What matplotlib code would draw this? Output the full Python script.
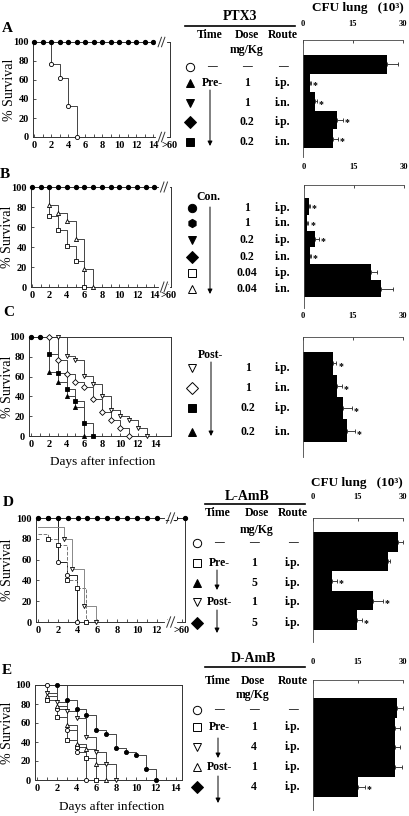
import matplotlib
matplotlib.use('Agg')
import matplotlib.pyplot as plt
import numpy as np

W, H = 409, 816
plt.rcParams['font.family'] = ['Liberation Serif', 'DejaVu Serif']
plt.rcParams['font.weight'] = 'bold'

# ---------------- survival data (day, % survival) ----------------
# A: PTX3 pre-treatment
a_prot_days = [0, 1, 2, 3, 4, 5, 6, 7, 8, 9, 10, 11, 12, 13, 14]
a_prot_vals = [100, 100, 100, 100, 100, 100, 100, 100, 100, 100, 100, 100, 100, 100, 100]
a_ctrl_days = [2, 3, 4, 5]
a_ctrl_vals = [77, 62, 33, 0]

# B: PTX3 concomitant
b_prot_days = [0, 1, 2, 3, 4, 5, 6, 7, 8, 9, 10, 11, 12, 13, 14]
b_prot_vals = [100, 100, 100, 100, 100, 100, 100, 100, 100, 100, 100, 100, 100, 100, 100]
b_tri_days = [2, 3, 4, 5, 6, 7]
b_tri_vals = [82, 74, 66, 48, 18, 0]
b_sq_days = [2, 3, 4, 5, 6]
b_sq_vals = [71, 57, 41, 26, 0]

# C: PTX3 post-treatment
c_start_days = [0, 1]
c_start_vals = [100, 100]
c_vdn_days = [3, 4, 5, 6, 7, 8, 9, 10, 11, 12, 13]
c_vdn_vals = [100, 81, 77, 61, 53, 40, 26, 20, 16, 8, 0]
c_dia_days = [2, 3, 4, 5, 6, 7, 8, 9, 10, 11]
c_dia_vals = [100, 77, 63, 55, 49, 37, 24, 16, 8, 0]
c_sq_days = [2, 3, 4, 5, 6, 7]
c_sq_vals = [83, 64, 47, 35, 13, 0]
c_tri_days = [2, 3, 4, 5, 6]
c_tri_vals = [65, 55, 40, 29, 0]

# D: L-AmB
d_prot_days = [0, 1, 2, 3, 4, 5, 6, 7, 8, 9, 10, 11, 12, 13, 13.85, 14.85]
d_prot_vals = [100, 100, 100, 100, 100, 100, 100, 100, 100, 100, 100, 100, 100, 100, 100, 100]
d_ctrl_start = 100
d_ctrl_days = [1, 2, 2.9, 3.9]
d_ctrl_vals = [100, 58, 45, 0]
d_pre_start = 85
d_pre_days = [1, 2, 2.9, 3.9, 4.9]
d_pre_vals = [80, 74, 40, 33, 0]
d_post_start = 91
d_post_days = [2.6, 3.4, 4.6, 5.9]
d_post_vals = [80, 51, 15, 0]

# E: D-AmB
e_ctrl_days = [1, 2, 3, 4, 5]
e_ctrl_vals = [100, 75, 53, 30, 0]
e_pre1_days = [1, 2, 3, 4, 5, 6]
e_pre1_vals = [84, 66, 42, 35, 23, 0]
e_pre4_days = [1, 2, 3, 4, 5, 6, 7, 8]
e_pre4_vals = [92, 82, 73, 65, 45, 29, 17, 0]
e_post1_days = [1, 2, 3, 4, 5, 6, 7]
e_post1_vals = [88, 78, 58, 38, 33, 17, 0]
e_post4_days = [2, 3, 4, 5, 6, 7, 8, 9, 10, 11, 12]
e_post4_vals = [100, 84, 75, 68, 53, 48, 34, 29, 26, 12, 0]

# ---------------- CFU lung (10^3) ----------------
a_cfu = [25.2, 2.1, 3.6, 10.2, 9.0]
a_err = [3.3, 0.3, 0.6, 1.8, 1.5]
a_sig = [False, True, True, True, True]
b_cfu = [1.4, 1.0, 3.3, 1.8, 20.0, 23.0]
b_err = [0.3, 0.3, 1.2, 0.3, 2.0, 3.6]
b_sig = [True, True, True, True, False, False]
c_cfu = [9.0, 10.2, 12.0, 13.2]
c_err = [1.0, 1.5, 2.7, 2.4]
c_sig = [True, True, True, True]
d_cfu = [28.3, 25.0, 6.3, 20.0, 14.7]
d_err = [1.7, 0.7, 1.7, 3.3, 1.6]
d_sig = [False, False, True, True, True]
e_cfu = [28.0, 27.3, 27.3, 27.3, 15.0]
e_err = [2.0, 1.7, 1.7, 2.3, 2.3]
e_sig = [False, False, False, False, True]

# ---------------- table text ----------------
a_time = ['—', 'Pre-', '', '', '']
a_dose = ['—', '1', '1', '0.2', '0.2']
a_route = ['—', 'i.p.', 'i.n.', 'i.p.', 'i.n.']
b_dose = ['1', '1', '0.2', '0.2', '0.04', '0.04']
b_route = ['i.p.', 'i.n.', 'i.p.', 'i.n.', 'i.p.', 'i.n.']
c_dose = ['1', '1', '0.2', '0.2']
c_route = ['i.p.', 'i.n.', 'i.p.', 'i.n.']
d_time = ['—', 'Pre-', '', 'Post-', '']
d_dose = ['—', '1', '5', '1', '5']
d_route = ['—', 'i.p.', 'i.p.', 'i.p.', 'i.p.']
e_time = ['—', 'Pre-', '', 'Post-', '']
e_dose = ['—', '1', '4', '1', '4']
e_route = ['—', 'i.p.', 'i.p.', 'i.p.', 'i.p.']

fig = plt.figure(figsize=(W / 100, H / 100), dpi=100)
fig.patch.set_facecolor('white')


def px_axes(x0, y0, x1, y1):
    return fig.add_axes([x0 / W, 1 - y1 / H, (x1 - x0) / W, (y1 - y0) / H])


def survival_axes(box, xlim, ticks, labels, last_day, label_x, xlabel_y=None):
    x0, y0, x1, y1 = box
    ax = px_axes(*box)
    ax.set_xlim(*xlim)
    ax.set_ylim(0, 100)
    ax.set_yticks([0, 20, 40, 60, 80, 100])
    ax.set_xticks(ticks)
    ax.set_xticklabels(labels)
    ax.set_xticks(np.arange(0, last_day + 1), minor=True)
    ax.tick_params(which='both', direction='in', length=2.5, width=0.6,
                   labelsize=7.5, pad=3, color='#333')
    ax.tick_params(which='minor', length=2)
    for s in ax.spines.values():
        s.set_linewidth(0.7)
        s.set_color('#333')
    ax.set_ylabel('% Survival', fontsize=10, va='center')
    ax.yaxis.set_label_coords((label_x - x0) / (x1 - x0), 0.5)
    if xlabel_y is not None:
        ax.set_xlabel('Days after infection', fontsize=9.5)
        ax.xaxis.set_label_coords(0.52, -(xlabel_y - y1) / (y1 - y0))
    return ax


def curve(ax, days, vals, marker, filled, start=100, color='#444', ls='-'):
    ax.plot([0] + days, [start] + vals, drawstyle='steps-post', color=color,
            lw=0.7, ls=ls, zorder=2)
    ax.plot(days, vals, ls='none', marker=marker, ms=3,
            mfc='black' if filled else 'white', mec='black', mew=0.6,
            clip_on=False, zorder=4)


def dots(ax, days, vals):
    ax.plot(days, vals, ls='none', marker='o', ms=2.8, mfc='black',
            mec='black', clip_on=False, zorder=5)


def axis_break(ax, xb):
    for yb in (0, 100):
        ax.plot([xb - 0.4, xb + 0.4], [yb, yb], color='white', lw=3,
                clip_on=False, zorder=6)
        for dx in (-0.2, 0.2):
            ax.plot([xb + dx - 0.2, xb + dx + 0.2], [yb - 5, yb + 5],
                    color='#333', lw=0.7, clip_on=False, zorder=7)


def cfu_axes(box, ylim, vals, errs, sig, pad):
    ax = px_axes(*box)
    pos = np.arange(len(vals))
    ax.barh(pos, vals, height=1.0, color='black', lw=0)
    ax.errorbar(vals, pos, xerr=[np.zeros(len(vals)), errs], fmt='none',
                ecolor='#222', elinewidth=0.6, capsize=1.5, capthick=0.6)
    for p, v, e, s in zip(pos, vals, errs, sig):
        if s:
            ax.text(v + e + 0.6, p + 0.15, '*', fontsize=7, ha='left', va='center')
    ax.set_xlim(0, 30)
    ax.set_ylim(*ylim)
    ax.xaxis.tick_top()
    ax.set_xticks([0, 15, 30])
    ax.set_yticks([])
    ax.spines['right'].set_visible(False)
    ax.spines['bottom'].set_visible(False)
    for s in ('top', 'left'):
        ax.spines[s].set_linewidth(0.6)
        ax.spines[s].set_color('#444')
    ax.tick_params(axis='x', direction='in', length=2, width=0.5,
                   labelsize=6, pad=pad)
    return ax


even = [0, 2, 4, 6, 8, 10, 12, 14]
even_lbl = ['0', '2', '4', '6', '8', '10', '12', '14']

# ---- A ----
ax = survival_axes((33, 42, 170, 137), (-0.12, 16.0), even + [16.0],
                   even_lbl + ['>60'], 14, 10)
curve(ax, a_ctrl_days, a_ctrl_vals, 'o', False)
dots(ax, a_prot_days, a_prot_vals)
axis_break(ax, 15.0)
cfu_axes((303, 40, 403, 157), (4.98, -1.3), a_cfu, a_err, a_sig, 9)

# ---- B ----
ax = survival_axes((31, 187, 171, 287), (-0.11, 15.9), even + [15.6],
                   even_lbl + ['>60'], 14, 8)
curve(ax, b_tri_days, b_tri_vals, '^', False)
curve(ax, b_sq_days, b_sq_vals, 's', False)
dots(ax, b_prot_days, b_prot_vals)
axis_break(ax, 15.1)
cfu_axes((304, 185, 404, 308), (6.17, -1.29), b_cfu, b_err, b_sig, 10)

# ---- C ----
ax = survival_axes((29, 337, 171, 436), (-0.22, 15.73), even, even_lbl, 14, 8,
                   xlabel_y=456)
curve(ax, c_vdn_days, c_vdn_vals, 'v', False)
curve(ax, c_dia_days, c_dia_vals, 'D', False)
curve(ax, c_sq_days, c_sq_vals, 's', True)
curve(ax, c_tri_days, c_tri_vals, '^', True)
dots(ax, c_start_days, c_start_vals)
cfu_axes((303, 337, 403, 457), (4.17, -1.17), c_cfu, c_err, c_sig, 12)

# ---- D ----
ax = survival_axes((36, 518, 185, 622), (-0.2, 14.85), even[:-1] + [14.5],
                   even_lbl[:-1] + ['>60'], 13, 8)
curve(ax, d_ctrl_days, d_ctrl_vals, 'o', False, start=d_ctrl_start, color='#222')
curve(ax, d_pre_days, d_pre_vals, 's', False, start=d_pre_start, color='#777', ls='--')
curve(ax, d_post_days, d_post_vals, 'v', False, start=d_post_start, color='#888')
dots(ax, d_prot_days, d_prot_vals)
axis_break(ax, 13.4)
cfu_axes((313, 518, 403, 642), (5.11, -1.21), d_cfu, d_err, d_sig, 12)

# ---- E ----
ax = survival_axes((35, 685, 182, 780), (-0.2, 14.65), even, even_lbl, 14, 8,
                   xlabel_y=801)
curve(ax, e_ctrl_days, e_ctrl_vals, 'o', False)
curve(ax, e_pre1_days, e_pre1_vals, 's', False)
curve(ax, e_pre4_days, e_pre4_vals, 'v', False)
curve(ax, e_post1_days, e_post1_vals, '^', False)
curve(ax, e_post4_days, e_post4_vals, 'o', True)
cfu_axes((313, 680, 403, 810), (5.16, -1.41), e_cfu, e_err, e_sig, 10)

# ---------------- overlay: letters, tables, arrows ----------------
ov = fig.add_axes([0, 0, 1, 1])
ov.set_xlim(0, W)
ov.set_ylim(H, 0)
ov.axis('off')


def txt(x, y, s, size=8.5):
    ov.text(x, y, s, fontsize=size, ha='center', va='center')


def sym(x, y, marker, filled, size=6):
    ov.plot(x, y, marker=marker, ms=size, mfc='black' if filled else 'white',
            mec='black', mew=0.7, ls='none')


def arrow(x, y0, y1):
    ov.annotate('', xy=(x, y1), xytext=(x, y0),
                arrowprops=dict(arrowstyle='-|>', lw=0.7, color='black',
                                mutation_scale=7, shrinkA=0, shrinkB=0))


def rows(ys, syms, sx, times, tx, doses, dx, routes, rx):
    for y, (m, f), t, d, r in zip(ys, syms, times, doses, routes):
        sym(sx, y, m, f)
        if t:
            txt(tx, y, t, 7 if t == '—' else 8.5)
        txt(dx, y, d, 7 if d == '—' else 8.5)
        txt(rx, y, r, 7 if r == '—' else 8.5)


for lx, ly, s in [(7, 28, 'A'), (5, 175, 'B'), (9, 313, 'C'), (8, 503, 'D'), (7, 671, 'E')]:
    txt(lx, ly, s, 11)

txt(358, 8, 'CFU lung   (10³)', 9.5)
txt(357, 483, 'CFU lung   (10³)', 9.5)

# A table
txt(240, 17, 'PTX3', 10)
ov.plot([185, 295], [26, 26], color='black', lw=1.2)
txt(210, 35, 'Time'); txt(247, 35, 'Dose'); txt(247, 50, 'mg/Kg'); txt(283, 35, 'Route')
rows([67, 83, 103, 122, 142],
     [('o', False), ('^', True), ('v', True), ('D', True), ('s', True)],
     190, a_time, 212, a_dose, 247, a_route, 283)
arrow(210, 90, 146)

# B table
txt(208, 197, 'Con.')
rows([208, 223, 240, 257, 273, 289],
     [('o', True), ('h', True), ('v', True), ('D', True), ('s', False), ('^', False)],
     192, ['', '', '', '', '', ''], 210, b_dose, 247, b_route, 283)
arrow(210, 207, 294)

# C table
txt(210, 355, 'Post-')
rows([368, 388, 408, 432],
     [('v', False), ('D', False), ('s', True), ('^', True)],
     192, ['', '', '', ''], 210, c_dose, 248, c_route, 283)
arrow(211, 362, 436)

# D table
txt(247, 497, 'L-AmB', 10)
ov.plot([205, 305], [504, 504], color='black', lw=1.2)
txt(218, 513, 'Time'); txt(257, 513, 'Dose'); txt(257, 530, 'mg/Kg'); txt(293, 513, 'Route')
rows([543, 563, 583, 602, 623],
     [('o', False), ('s', False), ('^', True), ('v', False), ('D', True)],
     197, d_time, 219, d_dose, 254, d_route, 293)
arrow(217, 570, 590)
arrow(217, 610, 633)

# E table
txt(253, 658, 'D-AmB', 10)
ov.plot([205, 305], [667, 667], color='black', lw=1.2)
txt(218, 681, 'Time'); txt(253, 681, 'Dose'); txt(253, 695, 'mg/Kg'); txt(293, 681, 'Route')
rows([710, 727, 747, 767, 787],
     [('o', False), ('s', False), ('v', False), ('^', False), ('D', True)],
     197, e_time, 219, e_dose, 254, e_route, 293)
arrow(218, 738, 758)
arrow(218, 776, 803)

fig.savefig('out.png', dpi=100)
